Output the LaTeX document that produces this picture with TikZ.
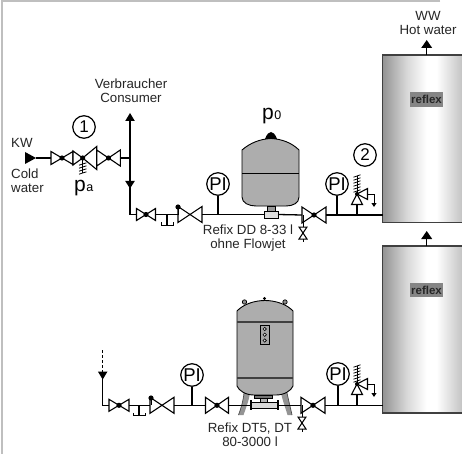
\documentclass[tikz,border=0pt]{standalone}
\usepackage{fontspec}
\setmainfont{Liberation Sans}
\usetikzlibrary{calc}
\definecolor{vessel}{gray}{0.68}
\definecolor{frameg}{gray}{0.75}
\pgfdeclarehorizontalshading{tankshade}{100bp}{color(0bp)=(black!42);color(25bp)=(black!42);color(40bp)=(black!15);color(52bp)=(white);color(58bp)=(white);color(75bp)=(black!25);color(100bp)=(black!25)}
\tikzset{
  pipe/.style={draw=black,line width=1.3pt},
  thin pipe/.style={draw=black,line width=1pt},
  valvebody/.style={draw=black,line width=1.1pt,fill=white,line join=miter},
  label/.style={font=\fontsize{13.3}{14}\selectfont,text=black!85,inner sep=0pt,align=center},
  big/.style={font=\fontsize{21}{22}\selectfont,inner sep=0pt},
  small/.style={font=\fontsize{12.5}{13}\selectfont,inner sep=0pt},
  pi gauge/.style={circle,draw=black,line width=1.2pt,fill=white,minimum size=22.5pt,inner sep=0pt,font=\fontsize{18.5}{19}\selectfont},
  numbered/.style={circle,draw=black,line width=1.2pt,fill=white,minimum size=22.5pt,inner sep=0pt,font=\fontsize{17}{18}\selectfont},
  tank/.style={draw=black!75,line width=1.3pt,shading=tankshade},
  logo/.style={fill=black!48,minimum width=33pt,minimum height=14.5pt,inner sep=0pt,text=black!85,font=\fontsize{11.5}{12}\bfseries\selectfont},
  vesselbody/.style={draw=black,line width=0.9pt,fill=vessel},
}
% name, x, y, half width, half height
\newcommand{\valve}[5]{%
  \coordinate (#1) at (#2,#3);
  \coordinate (#1-w) at (#2-#4,#3);
  \coordinate (#1-e) at (#2+#4,#3);
  \draw[valvebody] (#2,#3) -- (#2-#4,#3-#5) -- (#2-#4,#3+#5) -- cycle;
  \draw[valvebody] (#2,#3) -- (#2+#4,#3-#5) -- (#2+#4,#3+#5) -- cycle;
}
\newcommand{\vdot}[1]{\fill (#1) circle (2.6pt);}
% safety valve: name, x, apex y
\newcommand{\safety}[3]{%
  \coordinate (#1-base) at (#2,#3+10.5);
  \coordinate (#1-out) at (#2+10.5,#3);
  \coordinate (#1-turn) at (#2+17,#3);
  \coordinate (#1-end) at (#2+17,#3+9);
  \draw[thin pipe] (#1-out) -- (#1-turn) -- (#1-end);
  \fill (#2+17-2.6,#3+9) -- (#2+17+2.6,#3+9) -- (#2+17,#3+13) -- cycle;
  \draw[valvebody] (#2,#3) -- (#2-5.5,#3+10.5) -- (#2+5.5,#3+10.5) -- cycle;
  \draw[valvebody] (#2,#3) -- (#2+10.5,#3-5.5) -- (#2+10.5,#3+5.5) -- cycle;
  \draw[line width=0.9pt] (#2,#3) -- (#2,#3-18);
  \foreach \s in {3,6,9,12,15,18} \draw[line width=0.8pt] (#2-3.5,#3-\s+1.2) -- (#2+3.5,#3-\s-1.2);
  \fill (#2,#3) circle (2pt);
}
% drain cock: name, x, top y
\newcommand{\drain}[3]{%
  \coordinate (#1-top) at (#2,#3);
  \draw[valvebody,line width=1pt] (#2,#3+6) -- (#2-4,#3) -- (#2+4,#3) -- cycle;
  \draw[valvebody,line width=1pt] (#2,#3+6) -- (#2-4,#3+12) -- (#2+4,#3+12) -- cycle;
  \draw[line width=1pt] (#2,#3+12) -- (#2,#3+15);
}
% T with drip bar: name, x, y
\newcommand{\dripT}[3]{%
  \coordinate (#1) at (#2,#3);
  \coordinate (#1-b) at (#2,#3+10.5);
  \draw[line width=1pt] (#2-6,#3+7.5) -- (#2-6,#3+10.5) -- (#2+6,#3+10.5) -- (#2+6,#3+7.5);
}
\newcommand{\tipdown}[4]{\fill (#1-#3,#2) -- (#1+#3,#2) -- (#1,#2+#4) -- cycle;}
\newcommand{\tipup}[4]{\fill (#1-#3,#2) -- (#1+#3,#2) -- (#1,#2-#4) -- cycle;}
\begin{document}
\begin{tikzpicture}[x=1pt,y=-1pt]
\useasboundingbox (0,0) rectangle (462,454);
\fill[white] (0,0) rectangle (462,454);
% frame
\draw[frameg,line width=2pt] (440,1) -- (2,1) -- (2,454);

% hot-water tanks
\path[tank] (382.7,55) rectangle (464,222.7);
\path[tank] (382.7,246) rectangle (464,413);
\node[logo] (logoA) at (426.5,99.5) {reflex};
\node[logo] (logoB) at (426.5,290) {reflex};
\coordinate (tankAtop) at (426.7,55);
\coordinate (tankAout) at (426.7,47);
\coordinate (tankBtop) at (426.7,246);
\coordinate (tankBout) at (426.7,238);
\draw[pipe] (tankAtop) -- (tankAout);
\draw[pipe] (tankBtop) -- (tankBout);
\tipup{426.7}{48}{5.5}{8}
\tipup{426.7}{239}{5.5}{8}

% upper vessel
\draw[vesselbody] (242,150) .. controls (250,143) and (260,139) .. (271,138.5) .. controls (282,139) and (292,143) .. (299,150)
  -- (299,197) .. controls (299,203) and (293,206) .. (286,206) -- (256,206) .. controls (249,206) and (242,203) .. (242,197) -- cycle;
\draw[line width=.9pt] (242,173) -- (299,173);
\fill (265,138.8) .. controls (267,134) and (269,132) .. (271,132) .. controls (273,132) and (275,134) .. (277,138.8) -- cycle;
\draw[line width=.8pt,fill=black!40] (267,206) rectangle (275,212);
\draw[line width=.9pt,fill=black!12] (264,211) rectangle (278,218);

% lower vessel
\fill[black!42] (244,393) .. controls (243,402) and (241,408) .. (238.5,415) -- (243.5,415) .. controls (246,408) and (249,400) .. (250,393) -- cycle;
\fill[black!42] (281,393) .. controls (283,402) and (285.5,408) .. (287.5,415) -- (292,415) .. controls (290.5,408) and (288.5,400) .. (287,393) -- cycle;
\draw[line width=.7pt,black!70] (244,393) .. controls (243,402) and (241,408) .. (238.5,415);
\draw[line width=.7pt,black!70] (287,393) .. controls (288.5,400) and (290.5,408) .. (292,415);
\draw[line width=.7pt,fill=black!45] (244.5,302) circle (2.2pt);
\draw[line width=.7pt,fill=black!45] (285,302) circle (2.2pt);
\fill (264.5,298.5) circle (1.7pt);
\draw[vesselbody] (237,311) .. controls (243,304.5) and (254,300.5) .. (265,300.5) .. controls (276,300.5) and (287,304.5) .. (293,311)
  -- (293,386) .. controls (291,391) and (284,395) .. (276,395) -- (254,395) .. controls (246,395) and (239,391) .. (237,386) -- cycle;
\draw[line width=1.1pt,draw=black!75] (237,322) -- (293,322);
\draw[line width=1.1pt,draw=black!75] (237,378) -- (293,378);
\draw[line width=.8pt,fill=black!35] (260,325) rectangle (269.5,344.5);
\foreach \yy in {329,334.7,340.5} \draw[line width=.6pt,fill=black!15] (264.7,\yy) circle (1.7pt);
\draw[line width=.6pt,fill=black!55] (254,395) rectangle (272,398);
\draw[line width=.6pt,fill=black!30] (260,398) rectangle (267,403);
\draw[line width=.8pt,fill=black!15] (251,402.8) rectangle (278,408);
\draw[line width=1.8pt] (251,400) -- (251,410);
\draw[line width=1.8pt] (278,400) -- (278,410);

% --- upper circuit ---
\valve{vA}{62}{158}{11}{6.5}
\valve{vBa}{82.7}{158}{9.7}{7}
\draw[valvebody] (82.7,158) -- (96.7,146.5) -- (96.7,169.5) -- cycle;
\valve{vC}{108.5}{158}{11.8}{8}
\coordinate (vB-e) at (96.7,158);
\vdot{vA}\vdot{vBa}\vdot{vC}
\draw[line width=.9pt] (82.7,158) -- (82.7,173);
\foreach \s in {164,167,170,173} \draw[line width=.8pt] (79,\s+1.2) -- (86.4,\s-1.2);
\fill (25,152) -- (36,158) -- (25,164) -- cycle;
\coordinate (kwEnd) at (36,158);
\draw[pipe] (kwEnd) -- (vA-w);
\coordinate (jc) at (130,158);
\coordinate (consTop) at (130,120);
\coordinate (jd) at (130,214.5);
\draw[pipe] (vC-e) -- (jc);
\draw[pipe] (consTop) -- (jd);
\tipup{130}{121}{4.8}{8}
\tipdown{130}{181}{4.8}{7.5}

\valve{vD}{146}{214.5}{9.5}{6}
\vdot{vD}
\dripT{tA}{167}{214.5}
\valve{vE}{190}{214.5}{12}{8}
\coordinate (vEs) at (178,207);
\fill (vEs) circle (2.6pt);
\coordinate (vEb) at (178,214.5);
\draw[line width=.9pt] (vEs) -- (vEb);
\valve{vF}{314}{215}{12}{8}
\vdot{vF}
\node[pi gauge] (piA) at (218,184) {PI};
\node[pi gauge] (piB) at (337,184) {PI};
\coordinate (jpiA) at (218,214.5);
\coordinate (jpiB) at (337,215);
\coordinate (tankAin) at (382.7,215);
\coordinate (jdr) at (303,215);
\coordinate (jsa) at (357,215);
\coordinate (vesselA) at (264,214.5);
\coordinate (vesselAe) at (278,214.5);
\draw[pipe] (jd) -- (vD-w);
\draw[pipe] (vD-e) -- (vE-w);
\draw[pipe] (tA) -- (tA-b);
\draw[pipe] (vE-e) -- (jpiA) -- (vesselA);
\draw[pipe] (vesselAe) -- (vF-w);
\draw[pipe] (vF-e) -- (tankAin);
\draw[pipe] (piA) -- (jpiA);
\draw[pipe] (piB) -- (jpiB);
\safety{sA}{357}{194}
\draw[pipe] (sA-base) -- (jsa);
\drain{dA}{303}{227}
\draw[thin pipe] (jdr) -- (dA-top);

% --- lower circuit ---
\valve{wD}{119}{405.3}{10}{6}
\vdot{wD}
\dripT{tB}{139}{405.3}
\valve{wE}{162}{405.3}{12}{8}
\coordinate (wEs) at (151,398);
\fill (wEs) circle (2.6pt);
\coordinate (wEb) at (151,405.3);
\draw[line width=.9pt] (wEs) -- (wEb);
\valve{wC}{217}{405.3}{11.5}{8}
\vdot{wC}
\valve{wF}{313}{405.3}{12}{8}
\vdot{wF}
\node[pi gauge] (piC) at (192,375) {PI};
\node[pi gauge] (piD) at (338,374) {PI};
\coordinate (jpiC) at (192,405.3);
\coordinate (jpiD) at (338,405.3);
\coordinate (tankBin) at (382.7,405.3);
\coordinate (jdrB) at (302,405.3);
\coordinate (jsb) at (357,405.3);
\coordinate (dashTop) at (102.7,350);
\coordinate (dashEnd) at (102.7,372);
\coordinate (jb) at (102.7,405.3);
\coordinate (vesselB) at (251,405.3);
\coordinate (vesselBe) at (278,405.3);
\draw[thin pipe,dash pattern=on 3pt off 2pt] (dashTop) -- (dashEnd);
\tipdown{102.7}{371.5}{4.8}{8}
\draw[pipe] (dashEnd) -- (jb) -- (wD-w);
\draw[pipe] (wD-e) -- (wE-w);
\draw[pipe] (tB) -- (tB-b);
\draw[pipe] (wE-e) -- (wC-w);
\draw[pipe] (wC-e) -- (vesselB);
\draw[pipe] (vesselBe) -- (wF-w);
\draw[pipe] (wF-e) -- (tankBin);
\draw[pipe] (piC) -- (jpiC);
\draw[pipe] (piD) -- (jpiD);
\safety{sB}{357}{384}
\draw[pipe] (sB-base) -- (jsb);
\drain{dB}{302}{417}
\draw[thin pipe] (jdrB) -- (dB-top);

% --- labels ---
\node[numbered] (nA) at (84,127) {1};
\node[numbered] (nB) at (365,155) {2};
\node[label] (lcons) at (131,91) {Verbraucher\\Consumer};
\node[label] (lww) at (428,23) {WW\\Hot water};
\node[label,anchor=west] (lkw) at (11,143) {KW};
\node[label,anchor=west,align=left] (lcold) at (11,180.5) {Cold\\water};
\node[label] (lrefA) at (248,238) {Refix DD 8-33 l\\ohne Flowjet};
\node[label] (lrefB) at (250,435) {Refix DT5, DT\\80-3000 l};
\node[big,anchor=base west] (pa) at (74,192) {p};
\node[small,anchor=base west] (paS) at (pa.base east) {a};
\node[big,anchor=base west] (pz) at (262,120) {p};
\node[small,anchor=base west] (pzS) at (pz.base east) {0};
\end{tikzpicture}
\end{document}
